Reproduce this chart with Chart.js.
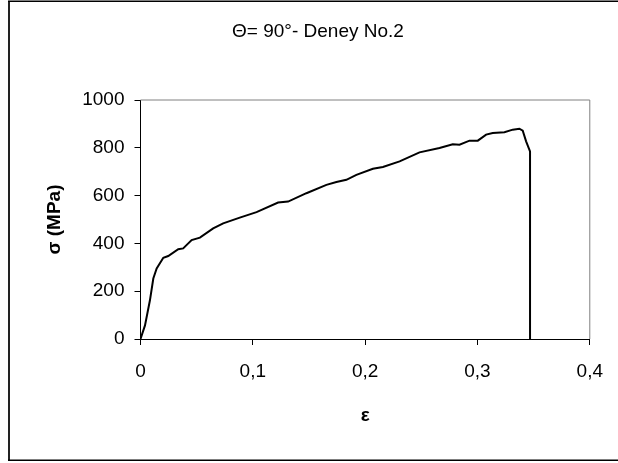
<!DOCTYPE html>
<html>
<head>
<meta charset="utf-8">
<script src="https://cdn.jsdelivr.net/npm/chart.js@4"></script>
<style>
  body { margin: 0; background: #fff; }
  #wrap { width: 618px; height: 463px; }
</style>
</head>
<body>
<div id="wrap"><canvas id="stressChart" width="618" height="463"></canvas></div>
<script>
const chartTitle = "Θ= 90°- Deney No.2";
const xTitle = "ε";
const yTitle = "σ (MPa)";

// strain values
const strain = [
  0, 0.004, 0.0084, 0.0114, 0.0144, 0.0203, 0.0247, 0.0336, 0.038, 0.0455,
  0.0529, 0.0647, 0.0736, 0.0884, 0.1033, 0.1225, 0.1314, 0.1477, 0.1655,
  0.1744, 0.1833, 0.1922, 0.2069, 0.2158, 0.2307, 0.2484, 0.2662, 0.278,
  0.284, 0.2929, 0.3003, 0.3077, 0.3136, 0.324, 0.3314, 0.3373, 0.3403,
  0.3433, 0.3468, 0.3468,
];
// stress in MPa
const stress = [
  0, 57, 162, 253, 295, 340, 347, 376, 379, 414,
  424, 463, 484, 508, 531, 571, 575, 610, 645,
  657, 666, 687, 712, 720, 743, 781, 799, 815,
  813, 830, 830, 855, 862, 865, 876, 880, 872,
  827, 785, 0,
];

const xTicks = [0, 0.1, 0.2, 0.3, 0.4];
const yTicks = [0, 200, 400, 600, 800, 1000];

const points = strain.map((x, i) => ({ x: x, y: stress[i] }));

// white page, outer frame and grey top/right edges of the plot
const framePlugin = {
  id: "frame",
  beforeDraw(chart) {
    const c = chart.ctx;
    c.save();
    c.fillStyle = "#fff";
    c.fillRect(0, 0, chart.width, chart.height);
    c.fillStyle = "#222";
    c.fillRect(8, 1, 2, 460);
    c.fillStyle = "#000";
    c.fillRect(8, 0.5, 610, 1.5);
    c.fillRect(8, 459.5, 610, 1.5);
    c.restore();
  },
  afterDraw(chart) {
    const a = chart.chartArea;
    const c = chart.ctx;
    c.save();
    c.strokeStyle = "#808080";
    c.lineWidth = 1;
    c.beginPath();
    c.moveTo(a.left, a.top);
    c.lineTo(a.right, a.top);
    c.lineTo(a.right, a.bottom);
    c.stroke();
    c.restore();
  },
};

const ctx = document.getElementById("stressChart").getContext("2d");
const stressChart = new Chart(ctx, {
  type: "line",
  data: {
    datasets: [
      {
        data: points,
        borderColor: "#000",
        borderWidth: 2,
        pointRadius: 0,
        tension: 0,
        fill: false,
      },
    ],
  },
  plugins: [framePlugin],
  options: {
    responsive: false,
    animation: false,
    layout: { padding: { left: 45, right: 27, top: 0, bottom: 0 } },
    plugins: {
      legend: { display: false },
      tooltip: { enabled: false },
      title: {
        display: true,
        text: chartTitle,
        color: "#000",
        font: { family: "Liberation Sans", size: 19, weight: "normal", lineHeight: 1.2 },
        padding: { top: 20, bottom: 57.2 },
      },
    },
    scales: {
      x: {
        type: "linear",
        min: 0,
        max: 0.4,
        afterBuildTicks: (s) => { s.ticks = xTicks.map((v) => ({ value: v })); },
        afterFit: (s) => { s.height = 124; },
        ticks: {
          color: "#000",
          font: { family: "Liberation Sans", size: 19 },
          padding: 15,
          maxRotation: 0,
          callback: (v) => (v === 0 ? "0" : v.toFixed(1).replace(".", ",")),
        },
        grid: { drawOnChartArea: false, drawTicks: true, tickLength: 6, color: "#000" },
        border: { display: true, color: "#000", width: 1 },
        title: {
          display: true,
          text: xTitle,
          color: "#000",
          font: { family: "Liberation Sans", size: 19, weight: "bold" },
          padding: { top: 0, bottom: 36 },
        },
      },
      y: {
        min: 0,
        max: 1000,
        afterBuildTicks: (s) => { s.ticks = yTicks.map((v) => ({ value: v })); },
        afterFit: (s) => { s.width = 95.5; },
        ticks: {
          color: "#000",
          font: { family: "Liberation Sans", size: 19 },
          padding: 10,
          callback: (v) => String(v),
        },
        grid: { drawOnChartArea: false, drawTicks: true, tickLength: 6, color: "#000" },
        border: { display: true, color: "#000", width: 1 },
        title: {
          display: true,
          text: yTitle,
          color: "#000",
          font: { family: "Liberation Sans", size: 19, weight: "bold", lineHeight: 1.0 },
          padding: 0,
        },
      },
    },
  },
});
</script>
</body>
</html>
